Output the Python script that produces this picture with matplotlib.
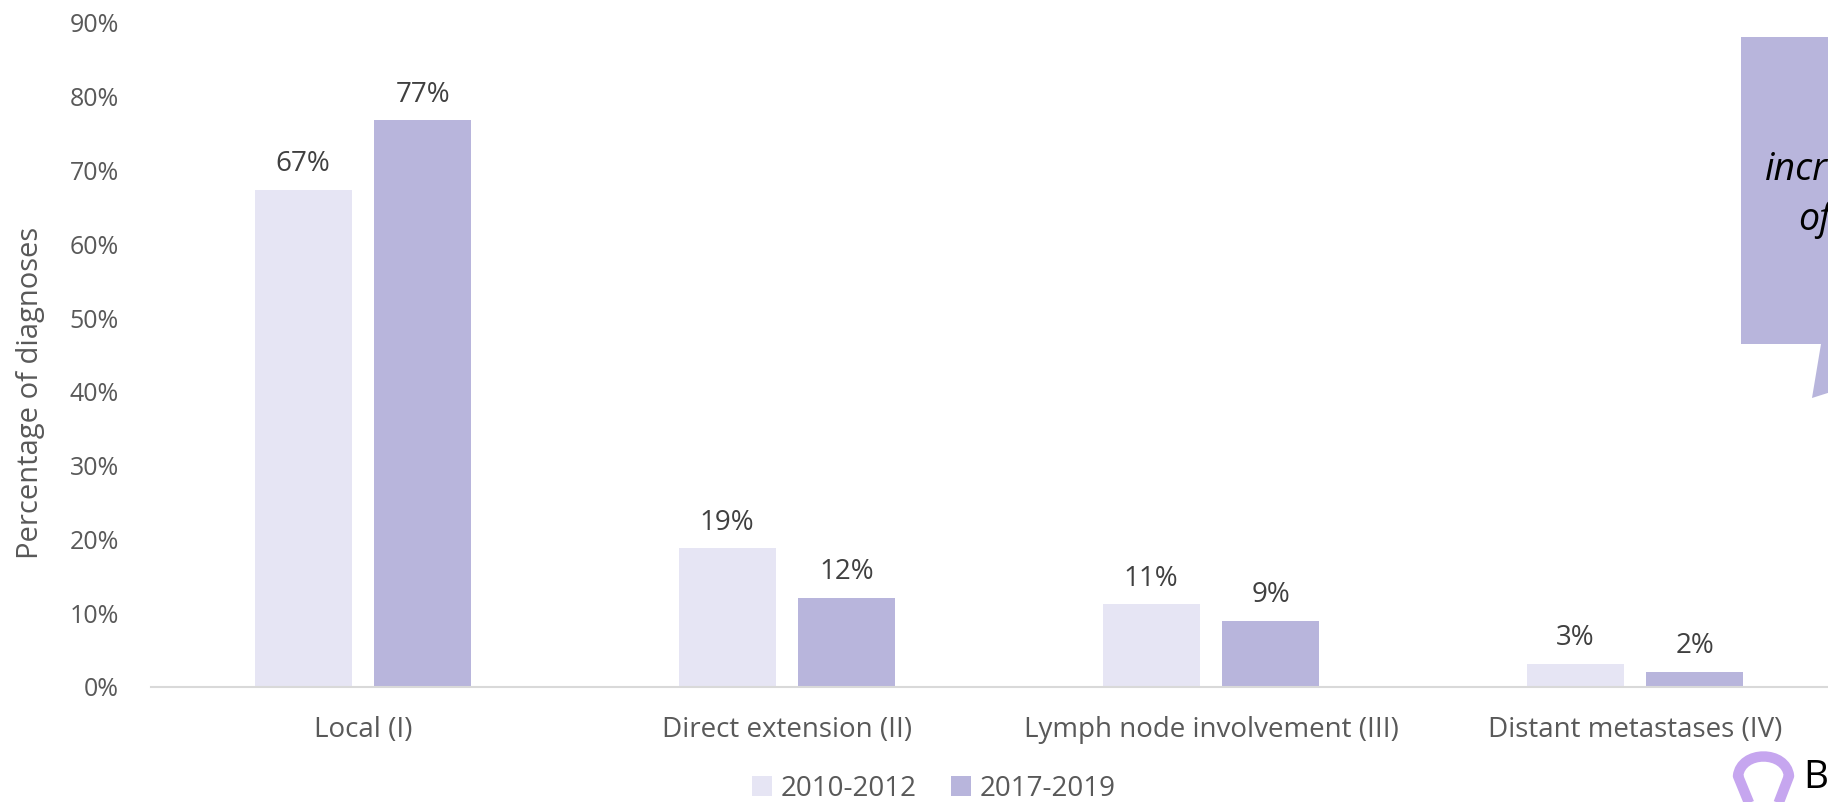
import matplotlib
matplotlib.use("Agg")
import matplotlib.pyplot as plt
from matplotlib.patches import Polygon, PathPatch
from matplotlib.path import Path

W, H = 1828, 802

# data
stages = ["Local (I)", "Direct extension (II)", "Lymph node involvement (III)", "Distant metastases (IV)"]
period_a = [67.4, 18.8, 11.2, 3.1]   # 2010-2012
period_b = [76.8, 12.1, 9.0, 2.0]    # 2017-2019
labels_a = ["67%", "19%", "11%", "3%"]
labels_b = ["77%", "12%", "9%", "2%"]
series_names = ["2010-2012", "2017-2019"]
yticks = [0, 10, 20, 30, 40, 50, 60, 70, 80, 90]

col_a = "#e6e5f4"
col_b = "#b8b5dc"

plt.rcParams['font.family'] = ['Open Sans', 'DejaVu Sans']


def px(x, y):
    # pixel position (from top-left) -> figure fraction
    return (x / W, 1 - y / H)


fig = plt.figure(figsize=(W / 100, H / 100), dpi=100)
ax = fig.add_axes([151 / W, 115 / H, 1696 / W, 664 / H])

x = list(range(len(stages)))
bw = 0.229
off = 0.141
bars_a = ax.bar([i - off for i in x], period_a, width=bw, color=col_a, zorder=2)
bars_b = ax.bar([i + off for i in x], period_b, width=bw, color=col_b, zorder=2)

for bars, labs in ((bars_a, labels_a), (bars_b, labels_b)):
    for b, t in zip(bars, labs):
        ax.annotate(t, (b.get_x() + b.get_width() / 2, b.get_height()),
                    xytext=(0, 13.5), textcoords="offset points",
                    ha="center", va="baseline", fontsize=20, color="#404040")

ax.set_xlim(-0.5, 3.5)
ax.set_ylim(0, 90)
ax.set_xticks(x)
ax.set_xticklabels(stages, fontsize=20, color="#595959")
ax.set_yticks(yticks)
ax.set_yticklabels([f"{v}%" for v in yticks], fontsize=18, color="#595959")
ax.tick_params(axis="both", length=0)
ax.tick_params(axis="y", pad=23)
ax.tick_params(axis="x", pad=21)
for s in ("top", "right", "left"):
    ax.spines[s].set_visible(False)
ax.spines["bottom"].set_color("#d9d9d9")
ax.spines["bottom"].set_linewidth(1.5)

fig.text(*px(31, 393), "Percentage of diagnoses", rotation=90, ha="center", va="center",
         fontsize=21, color="#595959")

leg = fig.legend([bars_a, bars_b], series_names, loc="center", bbox_to_anchor=px(934, 789),
                 ncol=2, frameon=False, handlelength=0.72, handleheight=0.72,
                 handletextpad=0.3, columnspacing=1.25, borderpad=0,
                 prop={"size": 20})
for t in leg.get_texts():
    t.set_color("#595959")

# callout box on the right edge (cut off by the figure edge)
pts = [px(1741, 37), px(1900, 37), px(1900, 370), px(1812, 398), px(1821, 344), px(1741, 344)]
fig.patches.append(Polygon(pts, closed=True, transform=fig.transFigure,
                           facecolor=col_b, edgecolor="none", zorder=1))
fig.text(*px(1765, 180), "increase", ha="left", va="baseline", fontsize=27,
         style="italic", color="black")
fig.text(*px(1798, 230), "of", ha="left", va="baseline", fontsize=27,
         style="italic", color="black")

# logo in the bottom-right corner
verts = [px(1754, 815), px(1738, 776), px(1741, 750), px(1786, 750), px(1789, 776),
         px(1774, 815)]
codes = [Path.MOVETO, Path.LINETO, Path.CURVE4, Path.CURVE4, Path.CURVE4, Path.LINETO]
fig.patches.append(PathPatch(Path(verts, codes), transform=fig.transFigure, fill=False,
                             edgecolor="#c6a6ef", linewidth=7.5, capstyle="butt",
                             joinstyle="round"))
fig.text(*px(1803, 788), "B", ha="left", va="baseline", fontsize=28, color="black")

fig.savefig("out.png", dpi=100)
